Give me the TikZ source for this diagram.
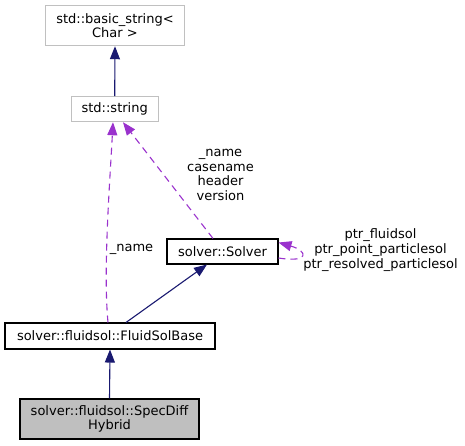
\documentclass[tikz,border=0pt]{standalone}
\usepackage{fontspec}
\setmainfont{DejaVu Sans}
\usetikzlibrary{arrows.meta,calc}
\definecolor{edgeblue}{HTML}{191970}
\definecolor{edgepurple}{HTML}{9A32CD}
\definecolor{boxgray}{HTML}{C0C0C0}
\definecolor{fillgray}{HTML}{BFBFBF}
\tikzset{
  cls/.style={draw=black, line width=1.05pt, inner sep=0pt, align=center, font=\fontsize{13}{14.7}\selectfont},
  extcls/.style={cls, draw=boxgray},
  curcls/.style={cls, fill=fillgray},
  inh/.style={draw=edgeblue, line width=1.1pt, -{Triangle[length=13pt,width=10pt]}},
  dep/.style={draw=edgepurple, line width=1.1pt, dash pattern=on 7pt off 5pt, -{Triangle[length=13pt,width=10pt]}},
  lbl/.style={align=center, inner sep=0pt, font=\fontsize{13}{14.7}\selectfont},
}
\begin{document}
\begin{tikzpicture}[x=1pt,y=-1pt]
\useasboundingbox (0,0) rectangle (465,445);
\node[extcls, minimum width=138.5pt, minimum height=40pt] (bs) at (115,25.7) {std::basic\_string<\\Char >};
\node[extcls, minimum width=87pt, minimum height=25pt] (str) at (114.7,109.2) {std::string};
\node[cls, minimum width=111pt, minimum height=25pt] (sv) at (222.5,251.5) {solver::Solver};
\node[cls, minimum width=210pt, minimum height=26pt] (fsb) at (110,336) {solver::fluidsol::FluidSolBase};
\node[curcls, minimum width=179pt, minimum height=40pt] (sdh) at (109.5,419) {solver::fluidsol::SpecDiff\\Hybrid};

\draw[inh] (str.north) -- (bs.south);
\draw[inh] (sdh.north) -- (fsb.south);
\draw[inh] ($(fsb.north)+(16,0)$) -- ($(sv.south)+(-15.5,0)$);
\draw[dep] ($(fsb.north)+(-2,0)$) .. controls (103,270) and (110,180) .. ($(str.south)+(-1.7,0)$);
\draw[dep] ($(sv.north)+(-9.5,0)$) -- ($(str.south)+(8.3,0)$);
\draw[dep] ($(sv.east)+(0,6.5)$) .. controls (310,263) and (308,251) .. ($(sv.east)+(0,-9)$);

\node[lbl] (l1) at (131.5,249) {\_name};
\node[lbl] (l2) at (220.5,175) {\_name\\casename\\header\\version};
\node[lbl] (l3) at (380.5,250) {ptr\_fluidsol\\ptr\_point\_particlesol\\ptr\_resolved\_particlesol};
\end{tikzpicture}
\end{document}
